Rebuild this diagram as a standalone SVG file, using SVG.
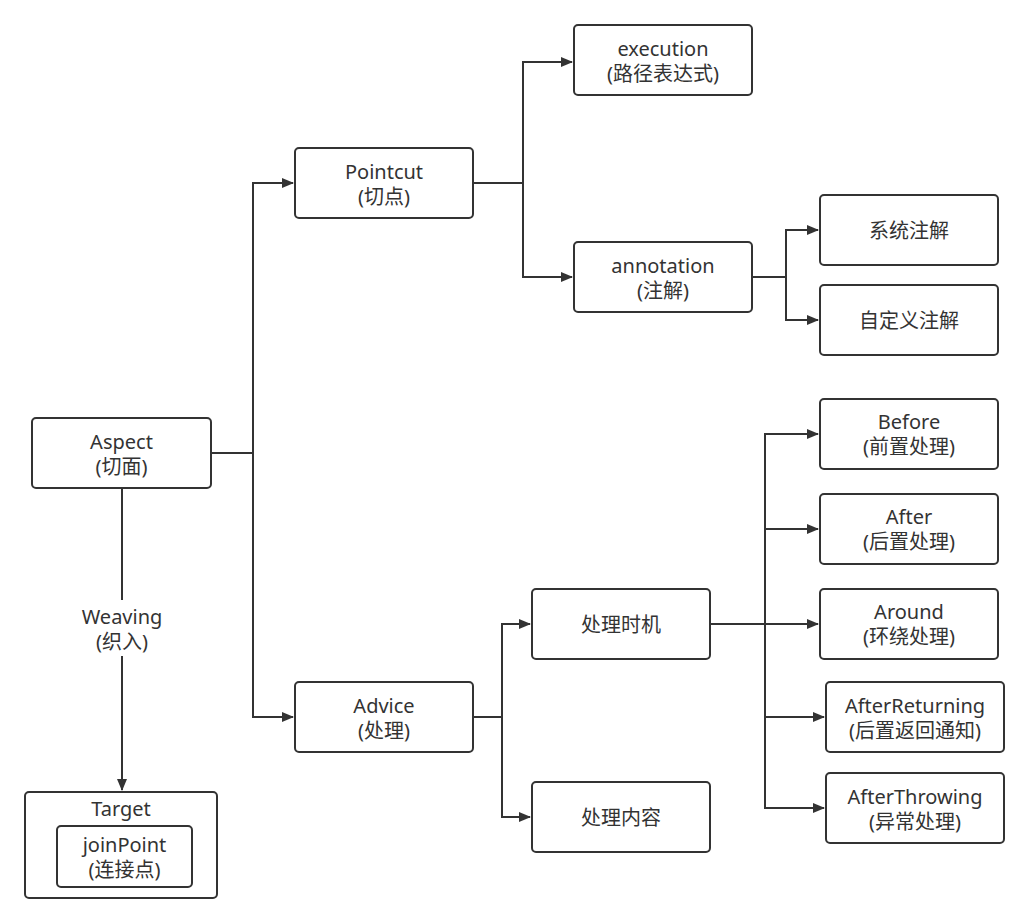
<svg xmlns="http://www.w3.org/2000/svg" width="1028" height="923" viewBox="0 0 1028 923">
<defs>
<marker id="arr" markerWidth="12" markerHeight="10" refX="11" refY="5" orient="auto" markerUnits="userSpaceOnUse">
<path d="M0,0 L12,5 L0,10 Z" fill="#333"/>
</marker>
<style>
.box{fill:#fff;stroke:#333;stroke-width:2}
.t{font-family:"Noto Sans","Noto Sans CJK SC",sans-serif;font-size:20px;fill:#333;text-anchor:middle;dominant-baseline:central}
.c{fill:none;stroke:#333;stroke-width:2}
</style>
</defs>
<rect width="1028" height="923" fill="#fff"/>
<g id="connectors">
<path class="c" d="M211,453 H253 V183 H293" marker-end="url(#arr)"/>
<path class="c" d="M253,453 V717 H293" marker-end="url(#arr)"/>
<path class="c" d="M473,183 H523 V62 H572" marker-end="url(#arr)"/>
<path class="c" d="M523,183 V277 H572" marker-end="url(#arr)"/>
<path class="c" d="M752,277 H786 V230 H818" marker-end="url(#arr)"/>
<path class="c" d="M786,277 V320 H818" marker-end="url(#arr)"/>
<path class="c" d="M473,717 H502 V624 H530" marker-end="url(#arr)"/>
<path class="c" d="M502,717 V817 H530" marker-end="url(#arr)"/>
<path class="c" d="M710,624 H765 V434 H818" marker-end="url(#arr)"/>
<path class="c" d="M765,529 H818" marker-end="url(#arr)"/>
<path class="c" d="M765,624 H818" marker-end="url(#arr)"/>
<path class="c" d="M765,624 V717 H824" marker-end="url(#arr)"/>
<path class="c" d="M765,717 V808 H824" marker-end="url(#arr)"/>
<path class="c" d="M122,488 V790" marker-end="url(#arr)"/>
<rect x="72" y="600" width="100" height="56" fill="#fff"/>
<text class="t" x="122" y="616">Weaving</text>
<text class="t" x="122" y="641">(织入)</text>
</g>
<g id="aspect"><rect class="box" x="32" y="418" width="179" height="70" rx="4"/><text class="t" x="121.5" y="441">Aspect</text><text class="t" x="121.5" y="466">(切面)</text></g>
<g id="pointcut"><rect class="box" x="295" y="148" width="178" height="70" rx="4"/><text class="t" x="384" y="171">Pointcut</text><text class="t" x="384" y="196">(切点)</text></g>
<g id="advice"><rect class="box" x="295" y="682" width="178" height="70" rx="4"/><text class="t" x="384" y="705">Advice</text><text class="t" x="384" y="730">(处理)</text></g>
<g id="execution"><rect class="box" x="574" y="25" width="178" height="70" rx="4"/><text class="t" x="663" y="48">execution</text><text class="t" x="663" y="73">(路径表达式)</text></g>
<g id="annotation"><rect class="box" x="574" y="242" width="178" height="70" rx="4"/><text class="t" x="663" y="265">annotation</text><text class="t" x="663" y="290">(注解)</text></g>
<g id="sysanno"><rect class="box" x="820" y="195" width="178" height="70" rx="4"/><text class="t" x="909" y="230">系统注解</text></g>
<g id="customanno"><rect class="box" x="820" y="285" width="178" height="70" rx="4"/><text class="t" x="909" y="320">自定义注解</text></g>
<g id="timing"><rect class="box" x="532" y="589" width="178" height="70" rx="4"/><text class="t" x="621" y="624">处理时机</text></g>
<g id="content"><rect class="box" x="532" y="782" width="178" height="70" rx="4"/><text class="t" x="621" y="817">处理内容</text></g>
<g id="before"><rect class="box" x="820" y="399" width="178" height="70" rx="4"/><text class="t" x="909" y="421">Before</text><text class="t" x="909" y="446">(前置处理)</text></g>
<g id="after"><rect class="box" x="820" y="494" width="178" height="70" rx="4"/><text class="t" x="909" y="516">After</text><text class="t" x="909" y="541">(后置处理)</text></g>
<g id="around"><rect class="box" x="820" y="589" width="178" height="70" rx="4"/><text class="t" x="909" y="611">Around</text><text class="t" x="909" y="636">(环绕处理)</text></g>
<g id="afterreturning"><rect class="box" x="826" y="682" width="178" height="70" rx="4"/><text class="t" x="915" y="705">AfterReturning</text><text class="t" x="915" y="730">(后置返回通知)</text></g>
<g id="afterthrowing"><rect class="box" x="826" y="773" width="178" height="70" rx="4"/><text class="t" x="915" y="796">AfterThrowing</text><text class="t" x="915" y="821">(异常处理)</text></g>
<g id="target"><rect class="box" x="25" y="792" width="192" height="106" rx="4"/><text class="t" x="121" y="808">Target</text>
<g id="joinpoint"><rect class="box" x="57" y="826" width="135" height="61" rx="4"/><text class="t" x="124.5" y="844">joinPoint</text><text class="t" x="124.5" y="869">(连接点)</text></g></g>
</svg>
